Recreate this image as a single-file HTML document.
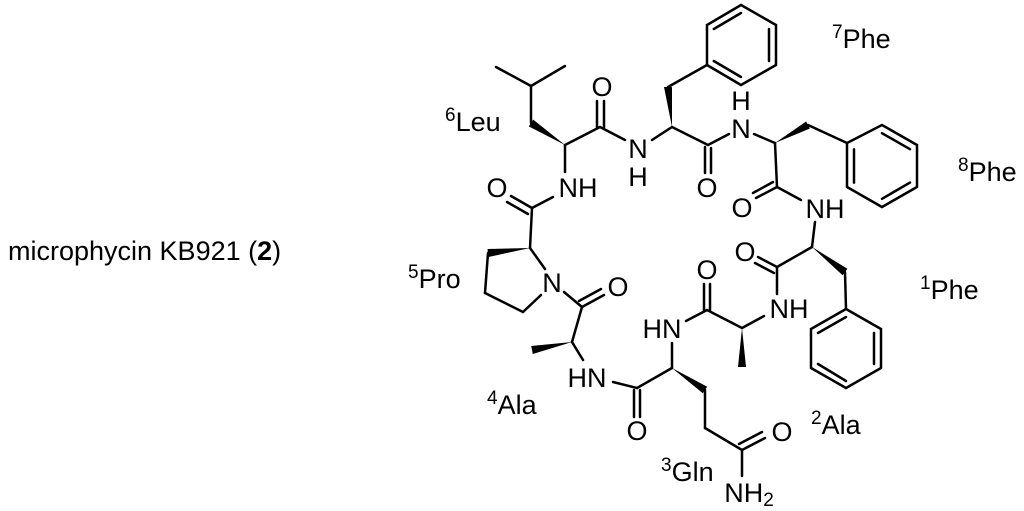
<!DOCTYPE html>
<html><head><meta charset="utf-8"><style>
html,body{margin:0;padding:0;background:#fff;}
svg{display:block;}
text{font-family:"Liberation Sans",Arial,sans-serif;fill:#000;}
</style></head><body>
<svg width="1024" height="511" viewBox="0 0 1024 511" xmlns="http://www.w3.org/2000/svg">
<text x="8" y="260" font-size="27">microphycin KB921 (<tspan font-weight="bold">2</tspan>)</text>

<g stroke="#000" stroke-width="2.5" fill="none" stroke-linecap="round">
<line x1="496" y1="67" x2="531" y2="86"/><line x1="565" y1="66" x2="531" y2="86"/>
<line x1="531" y1="86" x2="531" y2="123"/>
<line x1="565" y1="145" x2="600" y2="127"/>
<line x1="597" y1="127" x2="597" y2="101"/><line x1="604" y1="129" x2="604" y2="101"/>
<line x1="600" y1="127" x2="625" y2="140"/>
<line x1="652" y1="140" x2="672" y2="127"/>
<line x1="668" y1="87" x2="707" y2="65"/>
<line x1="672" y1="127" x2="708" y2="145"/>
<line x1="705" y1="147" x2="705" y2="173"/><line x1="711" y1="148" x2="711" y2="173"/>
<line x1="708" y1="145" x2="729" y2="134"/>
<line x1="754" y1="134" x2="775" y2="143"/>
<line x1="808" y1="125" x2="847" y2="143"/>
<line x1="775" y1="143" x2="777" y2="187"/>
<line x1="777" y1="187" x2="801" y2="200"/>
<line x1="777" y1="187" x2="756" y2="198"/><line x1="773" y1="182" x2="753" y2="193"/>
<line x1="812" y1="247" x2="815" y2="222"/>
<line x1="565" y1="145" x2="565" y2="172"/>
<line x1="553" y1="197" x2="532" y2="208"/>
<line x1="532" y1="208" x2="511" y2="196"/><line x1="528" y1="214" x2="507" y2="202"/>
<line x1="532" y1="208" x2="530" y2="248"/>
<line x1="488" y1="253" x2="485" y2="293"/><line x1="485" y1="293" x2="523" y2="312"/>
<line x1="523" y1="312" x2="541" y2="295"/>
<line x1="530" y1="248" x2="545" y2="269"/>
<line x1="564" y1="292" x2="582" y2="307"/>
<line x1="582" y1="307" x2="604" y2="295"/><line x1="579" y1="301" x2="601" y2="289"/>
<line x1="582" y1="307" x2="572" y2="342"/>
<line x1="572" y1="342" x2="583" y2="360"/>
<line x1="613" y1="382" x2="637" y2="388"/>
<line x1="634" y1="390" x2="634" y2="417"/><line x1="640" y1="390" x2="640" y2="417"/>
<line x1="637" y1="388" x2="672" y2="368"/>
<line x1="672" y1="368" x2="672" y2="343"/>
<line x1="686" y1="321" x2="707" y2="310"/>
<line x1="704" y1="310" x2="704" y2="284"/><line x1="710" y1="311" x2="710" y2="284"/>
<line x1="707" y1="310" x2="742" y2="328"/>
<line x1="742" y1="328" x2="764" y2="316"/>
<line x1="777" y1="294" x2="777" y2="267"/>
<line x1="777" y1="267" x2="758" y2="257"/><line x1="774" y1="273" x2="755" y2="263"/>
<line x1="777" y1="267" x2="812" y2="247"/>
<line x1="845" y1="272" x2="846" y2="309"/>
<line x1="705" y1="390" x2="705" y2="428"/><line x1="705" y1="428" x2="742" y2="450"/>
<line x1="742" y1="450" x2="765" y2="438"/><line x1="739" y1="444" x2="762" y2="432"/>
<line x1="742" y1="450" x2="742" y2="476"/>
<polygon points="741,5 776,25 776,65 741,85 707,65 707,25"/>
<line x1="713.8" y1="29" x2="741" y2="13"/><line x1="769" y1="29" x2="769" y2="61"/><line x1="713.8" y1="61" x2="741" y2="77"/>
<polygon points="882,125 917,145 917,187 882,207 847,187 847,143"/>
<line x1="882" y1="133.2" x2="910" y2="149.2"/><line x1="910" y1="182.6" x2="882" y2="198.8"/><line x1="854" y1="182.6" x2="854" y2="149.4"/>
<polygon points="846,309 881,329 881,368 846,388 811,368 811,329"/>
<line x1="846" y1="317" x2="818" y2="333"/><line x1="874" y1="333" x2="874" y2="364"/><line x1="818" y1="364" x2="846" y2="381"/>
</g>
<g fill="#000">
<polygon points="565,145 533.2,119.6 528.8,126.4"/>
<polygon points="672,127 672,87 664,87"/>
<polygon points="775,143 809.9,128.5 806.1,121.5"/>
<polygon points="530,248 488.5,257 487.5,249"/>
<polygon points="572,342 532.8,354 531.2,346"/>
<polygon points="672,368 702.8,393.3 707.2,386.7"/>
<polygon points="742,328 746,367 738,367"/>
<polygon points="812,247 842.6,275.2 847.4,268.8"/>
</g>
<g font-size="27" text-anchor="middle" dominant-baseline="central">
<text x="602" y="87">O</text>
<text x="638" y="149">N</text><text x="638" y="177">H</text>
<text x="707" y="188">O</text>
<text x="578" y="188">NH</text>
<text x="497" y="188">O</text>
<text x="741" y="101">H</text><text x="741" y="129">N</text>
<text x="742" y="208">O</text>
<text x="825" y="209">NH</text>
<text x="745" y="252">O</text>
<text x="789" y="309">NH</text>
<text x="707" y="270">O</text>
<text x="662" y="329">HN</text>
<text x="637" y="431">O</text>
<text x="587" y="378">HN</text>
<text x="618" y="287">O</text>
<text x="552" y="283">N</text>
<text x="782" y="432">O</text>
<text x="749" y="493">NH<tspan font-size="19" dy="7">2</tspan></text>
</g>
<g font-size="27">
<text x="445" y="131"><tspan font-size="19" dy="-10">6</tspan><tspan dy="10">Leu</tspan></text>
<text x="408" y="288"><tspan font-size="19" dy="-10">5</tspan><tspan dy="10">Pro</tspan></text>
<text x="487" y="414"><tspan font-size="19" dy="-10">4</tspan><tspan dy="10">Ala</tspan></text>
<text x="661" y="481"><tspan font-size="19" dy="-10">3</tspan><tspan dy="10">Gln</tspan></text>
<text x="811" y="434"><tspan font-size="19" dy="-10">2</tspan><tspan dy="10">Ala</tspan></text>
<text x="920" y="299"><tspan font-size="19" dy="-10">1</tspan><tspan dy="10">Phe</tspan></text>
<text x="958" y="181"><tspan font-size="19" dy="-10">8</tspan><tspan dy="10">Phe</tspan></text>
<text x="832" y="48"><tspan font-size="19" dy="-10">7</tspan><tspan dy="10">Phe</tspan></text>
</g>
</svg>
</body></html>
